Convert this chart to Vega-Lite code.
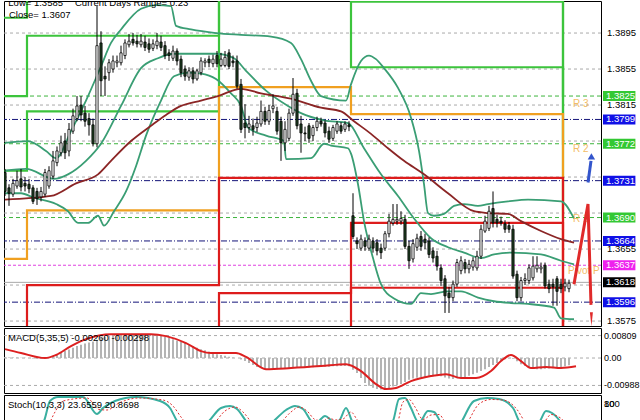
{
"$schema":"https://vega.github.io/schema/vega-lite/v6.json",
"background":"white",
"padding":{"left":3,"top":0,"right":0,"bottom":0},
"spacing":2,
"bounds":"flush",
"config":{"view":{"stroke":"#000000","strokeWidth":1},"font":"Liberation Sans","scale":{"continuousPadding":0}},
"datasets":{
"bars":[
{"t":0,"o":1.374,"h":1.3744,"l":1.3714,"c":1.3719,"m":0.0003},
{"t":1,"o":1.3723,"h":1.3727,"l":1.3703,"c":1.3717,"m":0.0002},
{"t":2,"o":1.3716,"h":1.3733,"l":1.3713,"c":1.3728,"m":0.0002},
{"t":3,"o":1.3725,"h":1.3742,"l":1.3722,"c":1.3731,"m":0.0002},
{"t":4,"o":1.3733,"h":1.3744,"l":1.3719,"c":1.3724,"m":0.0001},
{"t":5,"o":1.3728,"h":1.3735,"l":1.3719,"c":1.3725,"m":0.0001},
{"t":6,"o":1.3727,"h":1.3733,"l":1.3717,"c":1.3722,"m":0.0},
{"t":7,"o":1.3723,"h":1.3726,"l":1.3705,"c":1.3708,"m":-0.0002},
{"t":8,"o":1.3719,"h":1.3723,"l":1.3704,"c":1.3711,"m":-0.0003},
{"t":9,"o":1.3713,"h":1.3724,"l":1.3708,"c":1.3719,"m":-0.0002},
{"t":10,"o":1.3716,"h":1.3744,"l":1.3713,"c":1.374,"m":0.0},
{"t":11,"o":1.3725,"h":1.3747,"l":1.3722,"c":1.3742,"m":0.0003},
{"t":12,"o":1.3736,"h":1.3764,"l":1.3733,"c":1.3753,"m":0.0008},
{"t":13,"o":1.3751,"h":1.3769,"l":1.3747,"c":1.3764,"m":0.0013},
{"t":14,"o":1.3762,"h":1.3781,"l":1.3758,"c":1.3773,"m":0.0019},
{"t":15,"o":1.3775,"h":1.3784,"l":1.3755,"c":1.3762,"m":0.0025},
{"t":16,"o":1.3764,"h":1.3795,"l":1.3758,"c":1.3788,"m":0.0031},
{"t":17,"o":1.3786,"h":1.3811,"l":1.3783,"c":1.3803,"m":0.0037},
{"t":18,"o":1.38,"h":1.3825,"l":1.3797,"c":1.3814,"m":0.0043},
{"t":19,"o":1.3815,"h":1.3825,"l":1.3797,"c":1.3804,"m":0.0048},
{"t":20,"o":1.3806,"h":1.3814,"l":1.3791,"c":1.3797,"m":0.0052},
{"t":21,"o":1.38,"h":1.3806,"l":1.3781,"c":1.3793,"m":0.0056},
{"t":22,"o":1.3793,"h":1.38,"l":1.3769,"c":1.3772,"m":0.006},
{"t":23,"o":1.3772,"h":1.3925,"l":1.3768,"c":1.3881,"m":0.0066},
{"t":24,"o":1.3884,"h":1.3897,"l":1.3825,"c":1.3842,"m":0.0072},
{"t":25,"o":1.3847,"h":1.3858,"l":1.3825,"c":1.3844,"m":0.0076},
{"t":26,"o":1.3851,"h":1.3866,"l":1.3842,"c":1.3862,"m":0.0079},
{"t":27,"o":1.3855,"h":1.387,"l":1.3851,"c":1.3864,"m":0.0082},
{"t":28,"o":1.3862,"h":1.387,"l":1.3857,"c":1.3864,"m":0.0085},
{"t":29,"o":1.3862,"h":1.3881,"l":1.3859,"c":1.3873,"m":0.0086},
{"t":30,"o":1.387,"h":1.3888,"l":1.3866,"c":1.3884,"m":0.0087},
{"t":31,"o":1.3882,"h":1.3894,"l":1.3879,"c":1.3886,"m":0.0087},
{"t":32,"o":1.3888,"h":1.3895,"l":1.3881,"c":1.3884,"m":0.0087},
{"t":33,"o":1.3886,"h":1.3893,"l":1.3879,"c":1.3883,"m":0.0086},
{"t":34,"o":1.3882,"h":1.3894,"l":1.3879,"c":1.3886,"m":0.0086},
{"t":35,"o":1.3885,"h":1.3892,"l":1.3875,"c":1.3879,"m":0.0085},
{"t":36,"o":1.3883,"h":1.3889,"l":1.3873,"c":1.3877,"m":0.0084},
{"t":37,"o":1.3878,"h":1.3888,"l":1.3875,"c":1.3883,"m":0.0084},
{"t":38,"o":1.3881,"h":1.3895,"l":1.3877,"c":1.3886,"m":0.0083},
{"t":39,"o":1.3885,"h":1.3892,"l":1.3875,"c":1.3879,"m":0.008},
{"t":40,"o":1.3881,"h":1.3886,"l":1.3866,"c":1.387,"m":0.0077},
{"t":41,"o":1.3873,"h":1.3877,"l":1.3864,"c":1.387,"m":0.0073},
{"t":42,"o":1.3867,"h":1.3881,"l":1.3864,"c":1.3875,"m":0.0068},
{"t":43,"o":1.3875,"h":1.3878,"l":1.3859,"c":1.3864,"m":0.0063},
{"t":44,"o":1.3866,"h":1.387,"l":1.3846,"c":1.3851,"m":0.0058},
{"t":45,"o":1.3855,"h":1.3859,"l":1.3842,"c":1.3847,"m":0.0054},
{"t":46,"o":1.3846,"h":1.3857,"l":1.3842,"c":1.3853,"m":0.0048},
{"t":47,"o":1.3853,"h":1.3857,"l":1.3839,"c":1.3844,"m":0.0043},
{"t":48,"o":1.3844,"h":1.3855,"l":1.3842,"c":1.3853,"m":0.0037},
{"t":49,"o":1.3851,"h":1.3868,"l":1.3848,"c":1.3864,"m":0.0032},
{"t":50,"o":1.3862,"h":1.3867,"l":1.3857,"c":1.3864,"m":0.0028},
{"t":51,"o":1.3866,"h":1.387,"l":1.3857,"c":1.3862,"m":0.0023},
{"t":52,"o":1.3861,"h":1.3871,"l":1.3857,"c":1.3866,"m":0.0019},
{"t":53,"o":1.387,"h":1.3875,"l":1.3857,"c":1.3861,"m":0.0014},
{"t":54,"o":1.3859,"h":1.3873,"l":1.3857,"c":1.3866,"m":0.0011},
{"t":55,"o":1.3859,"h":1.3875,"l":1.3857,"c":1.3868,"m":0.0008},
{"t":56,"o":1.3873,"h":1.3877,"l":1.3855,"c":1.3858,"m":0.0005},
{"t":57,"o":1.3864,"h":1.387,"l":1.3857,"c":1.3862,"m":0.0002},
{"t":58,"o":1.3864,"h":1.387,"l":1.3833,"c":1.3836,"m":0.0},
{"t":59,"o":1.3838,"h":1.3844,"l":1.3784,"c":1.3788,"m":-0.0005},
{"t":60,"o":1.3795,"h":1.3816,"l":1.3778,"c":1.379,"m":-0.0011},
{"t":61,"o":1.379,"h":1.3803,"l":1.3784,"c":1.3794,"m":-0.0018},
{"t":62,"o":1.3792,"h":1.38,"l":1.3781,"c":1.3788,"m":-0.0025},
{"t":63,"o":1.379,"h":1.3802,"l":1.3785,"c":1.3795,"m":-0.0032},
{"t":64,"o":1.3794,"h":1.382,"l":1.3791,"c":1.3808,"m":-0.0036},
{"t":65,"o":1.3808,"h":1.3813,"l":1.3793,"c":1.3797,"m":-0.004},
{"t":66,"o":1.3797,"h":1.3815,"l":1.3793,"c":1.3809,"m":-0.0039},
{"t":67,"o":1.3811,"h":1.3827,"l":1.3806,"c":1.3814,"m":-0.0038},
{"t":68,"o":1.3808,"h":1.3813,"l":1.3782,"c":1.3786,"m":-0.0038},
{"t":69,"o":1.3797,"h":1.3802,"l":1.3753,"c":1.3773,"m":-0.0039},
{"t":70,"o":1.3773,"h":1.3797,"l":1.3764,"c":1.3788,"m":-0.0038},
{"t":71,"o":1.3778,"h":1.3811,"l":1.3775,"c":1.3806,"m":-0.0036},
{"t":72,"o":1.3806,"h":1.3845,"l":1.3803,"c":1.3827,"m":-0.0034},
{"t":73,"o":1.3828,"h":1.3833,"l":1.3788,"c":1.3792,"m":-0.0034},
{"t":74,"o":1.3794,"h":1.3803,"l":1.3762,"c":1.3784,"m":-0.0035},
{"t":75,"o":1.3784,"h":1.3791,"l":1.3775,"c":1.3783,"m":-0.0034},
{"t":76,"o":1.3792,"h":1.3795,"l":1.3773,"c":1.3778,"m":-0.0034},
{"t":77,"o":1.3781,"h":1.3793,"l":1.3775,"c":1.379,"m":-0.0033},
{"t":78,"o":1.379,"h":1.3802,"l":1.3786,"c":1.3797,"m":-0.0032},
{"t":79,"o":1.3797,"h":1.3801,"l":1.3791,"c":1.3794,"m":-0.0032},
{"t":80,"o":1.3795,"h":1.3798,"l":1.3779,"c":1.3784,"m":-0.0031},
{"t":81,"o":1.3786,"h":1.3791,"l":1.3773,"c":1.3777,"m":-0.0031},
{"t":82,"o":1.3778,"h":1.3793,"l":1.3775,"c":1.379,"m":-0.003},
{"t":83,"o":1.3786,"h":1.3797,"l":1.3783,"c":1.3794,"m":-0.003},
{"t":84,"o":1.3792,"h":1.3796,"l":1.3783,"c":1.3786,"m":-0.0029},
{"t":85,"o":1.3788,"h":1.3797,"l":1.3785,"c":1.3794,"m":-0.0029},
{"t":86,"o":1.3793,"h":1.3797,"l":1.3786,"c":1.3791,"m":-0.003},
{"t":87,"o":1.3692,"h":1.3717,"l":1.3666,"c":1.3669,"m":-0.0042},
{"t":88,"o":1.3664,"h":1.3668,"l":1.3655,"c":1.3661,"m":-0.0054},
{"t":89,"o":1.3656,"h":1.3671,"l":1.3653,"c":1.3666,"m":-0.0072},
{"t":90,"o":1.3664,"h":1.3668,"l":1.3653,"c":1.3658,"m":-0.009},
{"t":91,"o":1.3656,"h":1.3671,"l":1.3653,"c":1.3666,"m":-0.01},
{"t":92,"o":1.3664,"h":1.3668,"l":1.3651,"c":1.3656,"m":-0.0107},
{"t":93,"o":1.3662,"h":1.3666,"l":1.3648,"c":1.3653,"m":-0.0112},
{"t":94,"o":1.3656,"h":1.3661,"l":1.3644,"c":1.3651,"m":-0.0113},
{"t":95,"o":1.3656,"h":1.3675,"l":1.3653,"c":1.3672,"m":-0.0111},
{"t":96,"o":1.3672,"h":1.3694,"l":1.3668,"c":1.3686,"m":-0.0108},
{"t":97,"o":1.3684,"h":1.3705,"l":1.3681,"c":1.3688,"m":-0.0103},
{"t":98,"o":1.3686,"h":1.3705,"l":1.3682,"c":1.3688,"m":-0.0098},
{"t":99,"o":1.3686,"h":1.3697,"l":1.3682,"c":1.3689,"m":-0.0094},
{"t":100,"o":1.3688,"h":1.3693,"l":1.3655,"c":1.3658,"m":-0.0086},
{"t":101,"o":1.3658,"h":1.3664,"l":1.3633,"c":1.3642,"m":-0.0078},
{"t":102,"o":1.3644,"h":1.3666,"l":1.364,"c":1.3661,"m":-0.0074},
{"t":103,"o":1.3657,"h":1.3672,"l":1.3653,"c":1.3667,"m":-0.0071},
{"t":104,"o":1.3669,"h":1.3675,"l":1.3653,"c":1.3658,"m":-0.0069},
{"t":105,"o":1.3666,"h":1.3672,"l":1.3655,"c":1.3662,"m":-0.0068},
{"t":106,"o":1.3664,"h":1.3668,"l":1.3645,"c":1.3649,"m":-0.0067},
{"t":107,"o":1.3653,"h":1.3657,"l":1.364,"c":1.3645,"m":-0.0066},
{"t":108,"o":1.3647,"h":1.3653,"l":1.3631,"c":1.3636,"m":-0.0065},
{"t":109,"o":1.3634,"h":1.3638,"l":1.3614,"c":1.362,"m":-0.0066},
{"t":110,"o":1.3622,"h":1.3626,"l":1.3584,"c":1.3603,"m":-0.007},
{"t":111,"o":1.3606,"h":1.3613,"l":1.3584,"c":1.3601,"m":-0.0074},
{"t":112,"o":1.3601,"h":1.362,"l":1.3597,"c":1.3616,"m":-0.0076},
{"t":113,"o":1.3616,"h":1.3644,"l":1.3613,"c":1.364,"m":-0.0073},
{"t":114,"o":1.3631,"h":1.3647,"l":1.3627,"c":1.3642,"m":-0.007},
{"t":115,"o":1.364,"h":1.3644,"l":1.3628,"c":1.3633,"m":-0.0068},
{"t":116,"o":1.3633,"h":1.3643,"l":1.3628,"c":1.3638,"m":-0.0064},
{"t":117,"o":1.3635,"h":1.3646,"l":1.3631,"c":1.3642,"m":-0.0058},
{"t":118,"o":1.3634,"h":1.3653,"l":1.3631,"c":1.3647,"m":-0.0053},
{"t":119,"o":1.3647,"h":1.3682,"l":1.3644,"c":1.3677,"m":-0.0047},
{"t":120,"o":1.3675,"h":1.3692,"l":1.3673,"c":1.3686,"m":-0.004},
{"t":121,"o":1.3678,"h":1.3703,"l":1.3675,"c":1.3697,"m":-0.0032},
{"t":122,"o":1.37,"h":1.3719,"l":1.3679,"c":1.3684,"m":-0.0025},
{"t":123,"o":1.3688,"h":1.3693,"l":1.3679,"c":1.3684,"m":-0.0018},
{"t":124,"o":1.3686,"h":1.3691,"l":1.3681,"c":1.3684,"m":-0.001},
{"t":125,"o":1.3683,"h":1.3687,"l":1.3673,"c":1.3677,"m":-0.0004},
{"t":126,"o":1.3681,"h":1.3685,"l":1.3673,"c":1.3677,"m":-0.0001},
{"t":127,"o":1.3677,"h":1.3682,"l":1.3622,"c":1.3625,"m":-0.0003},
{"t":128,"o":1.3627,"h":1.3631,"l":1.3597,"c":1.3601,"m":-0.0012},
{"t":129,"o":1.3601,"h":1.3624,"l":1.3597,"c":1.362,"m":-0.0022},
{"t":130,"o":1.362,"h":1.3628,"l":1.3615,"c":1.3622,"m":-0.0029},
{"t":131,"o":1.362,"h":1.3638,"l":1.3616,"c":1.3634,"m":-0.0034},
{"t":132,"o":1.3623,"h":1.3647,"l":1.362,"c":1.3636,"m":-0.0038},
{"t":133,"o":1.3633,"h":1.3647,"l":1.3629,"c":1.3637,"m":-0.004},
{"t":134,"o":1.3633,"h":1.364,"l":1.3628,"c":1.3635,"m":-0.004},
{"t":135,"o":1.3637,"h":1.364,"l":1.3611,"c":1.3614,"m":-0.0039},
{"t":136,"o":1.3616,"h":1.3621,"l":1.3606,"c":1.3611,"m":-0.0038},
{"t":137,"o":1.3616,"h":1.3622,"l":1.3592,"c":1.3613,"m":-0.0037},
{"t":138,"o":1.3622,"h":1.3625,"l":1.3592,"c":1.3608,"m":-0.0036},
{"t":139,"o":1.3616,"h":1.3622,"l":1.3606,"c":1.3611,"m":-0.0034},
{"t":140,"o":1.3613,"h":1.3622,"l":1.3608,"c":1.3617,"m":-0.003},
{"t":141,"o":1.3611,"h":1.3621,"l":1.3607,"c":1.3617,"m":-0.0026}
],
"levels":[
{"p":1.3825,"k":"R"},{"p":1.3799,"k":"M"},{"p":1.3772,"k":"R"},{"p":1.3731,"k":"M"},{"p":1.369,"k":"R"},{"p":1.3664,"k":"M"},{"p":1.3637,"k":"P"},{"p":1.3618,"k":"C"},{"p":1.3596,"k":"M"}
],
"pgrid":[{"p":1.3895},{"p":1.3855},{"p":1.3815},{"p":1.3775},{"p":1.3735},{"p":1.3695},{"p":1.3655},{"p":1.3615},{"p":1.3575}],
"plabels":[{"p":1.3895},{"p":1.3855},{"p":1.3815},{"p":1.3655},{"p":1.3575}],
"steps":[
{"s":"R3","kind":"res","t":-0.25,"p":1.3912},{"s":"R3","kind":"res","t":5.5,"p":1.396},{"s":"R3","kind":"res","t":53.5,"p":1.396},{"s":"R3","kind":"res","t":86.5,"p":1.396},{"s":"R3","kind":"res","t":139.5,"p":1.3825},{"s":"R3","kind":"res","t":139.75,"p":1.3825},
{"s":"R2","kind":"res","t":-0.25,"p":1.3825},{"s":"R2","kind":"res","t":5.5,"p":1.3892},{"s":"R2","kind":"res","t":53.5,"p":1.396},{"s":"R2","kind":"res","t":86.5,"p":1.393},{"s":"R2","kind":"res","t":139.5,"p":1.3772},{"s":"R2","kind":"res","t":139.75,"p":1.3772},
{"s":"R1","kind":"res","t":-0.25,"p":1.3742},{"s":"R1","kind":"res","t":5.5,"p":1.3808},{"s":"R1","kind":"res","t":53.5,"p":1.396},{"s":"R1","kind":"res","t":86.5,"p":1.3857},{"s":"R1","kind":"res","t":139.5,"p":1.369},{"s":"R1","kind":"res","t":139.75,"p":1.369},
{"s":"PP","kind":"piv","t":-0.25,"p":1.3644},{"s":"PP","kind":"piv","t":5.5,"p":1.3698},{"s":"PP","kind":"piv","t":53.5,"p":1.3835},{"s":"PP","kind":"piv","t":86.5,"p":1.3805},{"s":"PP","kind":"piv","t":139.5,"p":1.3637},{"s":"PP","kind":"piv","t":139.75,"p":1.3637},
{"s":"S1","kind":"sup","t":-0.25,"p":1.354},{"s":"S1","kind":"sup","t":5.5,"p":1.3615},{"s":"S1","kind":"sup","t":53.5,"p":1.3734},{"s":"S1","kind":"sup","t":86.5,"p":1.3734},{"s":"S1","kind":"sup","t":139.5,"p":1.3555},{"s":"S1","kind":"sup","t":139.75,"p":1.3555},
{"s":"S2","kind":"sup","t":-0.25,"p":1.35},{"s":"S2","kind":"sup","t":5.5,"p":1.35},{"s":"S2","kind":"sup","t":53.5,"p":1.3606},{"s":"S2","kind":"sup","t":86.5,"p":1.3684},{"s":"S2","kind":"sup","t":139.5,"p":1.35},{"s":"S2","kind":"sup","t":139.75,"p":1.35},
{"s":"S3","kind":"sup","t":-0.25,"p":1.345},{"s":"S3","kind":"sup","t":53.5,"p":1.345},{"s":"S3","kind":"sup","t":86.5,"p":1.3612},{"s":"S3","kind":"sup","t":139.5,"p":1.345},{"s":"S3","kind":"sup","t":139.75,"p":1.345}
],
"ind":[
{"s":"bu","t":0,"v":1.3773},{"s":"bu","t":5.75,"v":1.3775},{"s":"bu","t":10.25,"v":1.3764},{"s":"bu","t":12.75,"v":1.3756},{"s":"bu","t":16.5,"v":1.3786},{"s":"bu","t":20.25,"v":1.382},{"s":"bu","t":24,"v":1.3858},{"s":"bu","t":26.5,"v":1.3884},{"s":"bu","t":29,"v":1.3899},{"s":"bu","t":34,"v":1.3922},{"s":"bu","t":37.75,"v":1.3926},{"s":"bu","t":41.5,"v":1.3925},{"s":"bu","t":42.75,"v":1.3903},{"s":"bu","t":46.5,"v":1.3899},{"s":"bu","t":52.75,"v":1.3895},{"s":"bu","t":59,"v":1.3893},{"s":"bu","t":66.5,"v":1.3891},{"s":"bu","t":71.5,"v":1.3884},{"s":"bu","t":74,"v":1.3866},{"s":"bu","t":76.5,"v":1.3842},{"s":"bu","t":79,"v":1.3825},{"s":"bu","t":85.25,"v":1.382},{"s":"bu","t":86.5,"v":1.3838},{"s":"bu","t":89,"v":1.3864},{"s":"bu","t":91,"v":1.387},{"s":"bu","t":92.75,"v":1.3866},{"s":"bu","t":94.75,"v":1.3856},{"s":"bu","t":98.25,"v":1.3834},{"s":"bu","t":101.5,"v":1.3801},{"s":"bu","t":103.5,"v":1.3764},{"s":"bu","t":104.75,"v":1.3727},{"s":"bu","t":105.75,"v":1.3695},{"s":"bu","t":107.25,"v":1.3692},{"s":"bu","t":109.75,"v":1.3694},{"s":"bu","t":112.25,"v":1.3703},{"s":"bu","t":114.75,"v":1.3705},{"s":"bu","t":118.25,"v":1.3703},{"s":"bu","t":120.75,"v":1.3705},{"s":"bu","t":125.75,"v":1.3708},{"s":"bu","t":130.75,"v":1.371},{"s":"bu","t":139,"v":1.3708},{"s":"bu","t":142.25,"v":1.3689},
{"s":"bm","t":0,"v":1.3742},{"s":"bm","t":5.25,"v":1.3744},{"s":"bm","t":12.25,"v":1.3733},{"s":"bm","t":15.75,"v":1.3738},{"s":"bm","t":20.25,"v":1.3753},{"s":"bm","t":24,"v":1.3772},{"s":"bm","t":29,"v":1.3814},{"s":"bm","t":34,"v":1.3856},{"s":"bm","t":38.25,"v":1.3867},{"s":"bm","t":42.25,"v":1.3872},{"s":"bm","t":52.75,"v":1.3872},{"s":"bm","t":57.25,"v":1.3867},{"s":"bm","t":60.25,"v":1.3853},{"s":"bm","t":65.25,"v":1.3831},{"s":"bm","t":70.75,"v":1.3814},{"s":"bm","t":74,"v":1.3806},{"s":"bm","t":79.75,"v":1.3798},{"s":"bm","t":85.75,"v":1.3795},{"s":"bm","t":89.75,"v":1.3767},{"s":"bm","t":94,"v":1.3738},{"s":"bm","t":98.25,"v":1.3714},{"s":"bm","t":102.25,"v":1.3689},{"s":"bm","t":106.5,"v":1.3667},{"s":"bm","t":110.75,"v":1.3657},{"s":"bm","t":114.75,"v":1.3651},{"s":"bm","t":119,"v":1.3645},{"s":"bm","t":122.25,"v":1.3649},{"s":"bm","t":126.5,"v":1.3651},{"s":"bm","t":134,"v":1.3649},{"s":"bm","t":139,"v":1.3642},{"s":"bm","t":142.25,"v":1.3638},
{"s":"bl","t":0,"v":1.3717},{"s":"bl","t":4,"v":1.3717},{"s":"bl","t":7.25,"v":1.3712},{"s":"bl","t":12.75,"v":1.3705},{"s":"bl","t":15.75,"v":1.3697},{"s":"bl","t":18.25,"v":1.3684},{"s":"bl","t":20.75,"v":1.3684},{"s":"bl","t":23.25,"v":1.3692},{"s":"bl","t":24.75,"v":1.3681},{"s":"bl","t":27.25,"v":1.3697},{"s":"bl","t":30.25,"v":1.3719},{"s":"bl","t":32.75,"v":1.3747},{"s":"bl","t":35.25,"v":1.3781},{"s":"bl","t":39,"v":1.382},{"s":"bl","t":42.25,"v":1.3847},{"s":"bl","t":45.75,"v":1.3851},{"s":"bl","t":49,"v":1.385},{"s":"bl","t":52.75,"v":1.3844},{"s":"bl","t":56.5,"v":1.3828},{"s":"bl","t":59,"v":1.3814},{"s":"bl","t":60.75,"v":1.379},{"s":"bl","t":65.25,"v":1.3781},{"s":"bl","t":69.75,"v":1.3775},{"s":"bl","t":70.25,"v":1.3755},{"s":"bl","t":76.5,"v":1.3756},{"s":"bl","t":79.75,"v":1.3772},{"s":"bl","t":81.5,"v":1.377},{"s":"bl","t":85.75,"v":1.3767},{"s":"bl","t":86.5,"v":1.3761},{"s":"bl","t":88.25,"v":1.3727},{"s":"bl","t":89.75,"v":1.3686},{"s":"bl","t":92,"v":1.3645},{"s":"bl","t":94,"v":1.3616},{"s":"bl","t":97.25,"v":1.36},{"s":"bl","t":101.5,"v":1.3594},{"s":"bl","t":104,"v":1.3606},{"s":"bl","t":106.5,"v":1.3605},{"s":"bl","t":110.75,"v":1.3608},{"s":"bl","t":114,"v":1.3608},{"s":"bl","t":118.25,"v":1.3601},{"s":"bl","t":122.25,"v":1.3597},{"s":"bl","t":126.5,"v":1.3595},{"s":"bl","t":130.75,"v":1.3594},{"s":"bl","t":137.25,"v":1.359},{"s":"bl","t":139,"v":1.3578},{"s":"bl","t":142.25,"v":1.3577},
{"s":"ma","t":0,"v":1.371},{"s":"ma","t":11.5,"v":1.3714},{"s":"ma","t":17.75,"v":1.3728},{"s":"ma","t":23.25,"v":1.3738},{"s":"ma","t":26.5,"v":1.3753},{"s":"ma","t":31.5,"v":1.3775},{"s":"ma","t":36.5,"v":1.3792},{"s":"ma","t":40.25,"v":1.3804},{"s":"ma","t":44,"v":1.3814},{"s":"ma","t":49,"v":1.382},{"s":"ma","t":53.25,"v":1.3825},{"s":"ma","t":59,"v":1.3833},{"s":"ma","t":64,"v":1.3828},{"s":"ma","t":71.5,"v":1.3822},{"s":"ma","t":79,"v":1.3812},{"s":"ma","t":84,"v":1.3808},{"s":"ma","t":87.25,"v":1.3797},{"s":"ma","t":91.5,"v":1.3783},{"s":"ma","t":95.75,"v":1.3767},{"s":"ma","t":99.75,"v":1.3753},{"s":"ma","t":104.75,"v":1.3738},{"s":"ma","t":110.75,"v":1.3717},{"s":"ma","t":117.25,"v":1.3697},{"s":"ma","t":120.75,"v":1.3695},{"s":"ma","t":125.75,"v":1.3694},{"s":"ma","t":129,"v":1.3686},{"s":"ma","t":134,"v":1.3675},{"s":"ma","t":139,"v":1.3666},{"s":"ma","t":142.25,"v":1.3662}
],
"sig":[
{"t":0,"v":0.0032},{"t":4,"v":0.0018},{"t":10,"v":0.0},{"t":12.75,"v":0.0011},{"t":16.5,"v":0.0043},{"t":20.25,"v":0.0068},{"t":26.5,"v":0.0086},{"t":36.5,"v":0.0086},{"t":40.25,"v":0.0079},{"t":45.25,"v":0.0054},{"t":49,"v":0.0025},{"t":51.5,"v":0.0018},{"t":57.75,"v":0.0018},{"t":60.25,"v":0.0004},{"t":65.25,"v":-0.004},{"t":71.5,"v":-0.0036},{"t":79,"v":-0.0029},{"t":85.25,"v":-0.0022},{"t":89,"v":-0.0047},{"t":92.75,"v":-0.0094},{"t":95.25,"v":-0.0112},{"t":97.75,"v":-0.0108},{"t":101.5,"v":-0.0083},{"t":106.5,"v":-0.0065},{"t":110.25,"v":-0.0058},{"t":114,"v":-0.0072},{"t":117.75,"v":-0.0072},{"t":121.5,"v":-0.0047},{"t":124,"v":-0.0011},{"t":126.5,"v":0.0011},{"t":129,"v":-0.0011},{"t":131.5,"v":-0.0036},{"t":135.25,"v":-0.0032},{"t":139,"v":-0.0036},{"t":142.75,"v":-0.003}
],
"mgrid":[{"v":0.00809,"txt":"0.00809"},{"v":0,"txt":"0.00"},{"v":-0.00988,"txt":"-0.00988"}],
"stk":[
{"t":0,"v":35},{"t":6.5,"v":25},{"t":9.75,"v":52},{"t":11.25,"v":92},{"t":13.25,"v":100},{"t":19.5,"v":100},{"t":23,"v":66},{"t":24.5,"v":78},{"t":27.5,"v":92},{"t":32.75,"v":100},{"t":38.75,"v":92},{"t":41.25,"v":78},{"t":43,"v":52},{"t":46.5,"v":25},{"t":51,"v":52},{"t":54,"v":78},{"t":56.25,"v":82},{"t":58,"v":76},{"t":60.25,"v":52},{"t":63.5,"v":20},{"t":67.25,"v":52},{"t":70.25,"v":74},{"t":72.5,"v":82},{"t":74.5,"v":76},{"t":76.5,"v":52},{"t":77.5,"v":45},{"t":78.5,"v":52},{"t":80,"v":62},{"t":81.75,"v":52},{"t":82.75,"v":48},{"t":83.75,"v":55},{"t":85.25,"v":78},{"t":86.75,"v":52},{"t":91.5,"v":10},{"t":97,"v":52},{"t":98.5,"v":96},{"t":100,"v":98},{"t":101.5,"v":78},{"t":103,"v":52},{"t":103.5,"v":48},{"t":104,"v":52},{"t":105.75,"v":72},{"t":107.25,"v":70},{"t":108.75,"v":52},{"t":111.5,"v":15},{"t":114.25,"v":52},{"t":117.25,"v":92},{"t":120.5,"v":98},{"t":123.5,"v":96},{"t":127,"v":78},{"t":128.5,"v":52},{"t":131,"v":30},{"t":133.75,"v":52},{"t":135.25,"v":72},{"t":136.75,"v":68},{"t":138.75,"v":52},{"t":141,"v":24}
],
"std":[
{"t":0,"v":38},{"t":7,"v":26},{"t":10.5,"v":40},{"t":12.5,"v":70},{"t":14.5,"v":92},{"t":20.5,"v":98},{"t":23.5,"v":75},{"t":25.5,"v":74},{"t":28.5,"v":88},{"t":33.5,"v":98},{"t":39.5,"v":94},{"t":42,"v":82},{"t":44,"v":60},{"t":47.5,"v":30},{"t":52,"v":45},{"t":55,"v":72},{"t":57.5,"v":80},{"t":59.5,"v":70},{"t":62,"v":45},{"t":64.5,"v":24},{"t":68.5,"v":45},{"t":71.5,"v":70},{"t":73.5,"v":80},{"t":75.5,"v":72},{"t":77.5,"v":55},{"t":79.5,"v":52},{"t":81,"v":58},{"t":82.5,"v":54},{"t":84.5,"v":56},{"t":86.5,"v":70},{"t":88,"v":55},{"t":92.5,"v":18},{"t":98,"v":45},{"t":99.5,"v":90},{"t":101,"v":95},{"t":102.5,"v":80},{"t":104.5,"v":55},{"t":106.5,"v":64},{"t":108.5,"v":65},{"t":110,"v":50},{"t":112.5,"v":22},{"t":115.5,"v":48},{"t":118.5,"v":86},{"t":121.5,"v":95},{"t":124.5,"v":94},{"t":128,"v":75},{"t":130,"v":50},{"t":132,"v":32},{"t":135,"v":52},{"t":136.5,"v":65},{"t":138,"v":62},{"t":140,"v":48},{"t":141.5,"v":21}
]
},
"vconcat":[
{
"width":597,"height":325,
"layer":[
{"data":{"name":"pgrid"},"mark":{"type":"rule","strokeWidth":1,"color":"#aaaaaa","strokeDash":[3,3],"clip":true},
 "encoding":{"y":{"field":"p","type":"quantitative","scale":{"domain":[1.35695,1.39306],"nice":false,"zero":false,"padding":0},"axis":null}}},
{"data":{"name":"levels"},"mark":{"type":"rule","strokeWidth":1,"clip":true},
 "encoding":{"y":{"field":"p","type":"quantitative","scale":{"domain":[1.35695,1.39306],"nice":false,"zero":false,"padding":0},"axis":null},
 "stroke":{"field":"k","type":"nominal","scale":{"domain":["R","M","P","C","res","piv","sup","bu","bm","bl","ma"],"range":["#3cb43c","#14147a","#e040e0","#a8a8a8","#3cc43c","#f0a020","#dd1c1c","#3a9e74","#3a9e74","#3a9e74","#8b2525"]},"legend":null},
 "strokeDash":{"field":"k","type":"nominal","scale":{"domain":["R","M","P","C"],"range":[[4,3],[6,2,1,2],[3,2],[1,0]]},"legend":null}}},
{"data":{"name":"steps"},"mark":{"type":"line","interpolate":"step-after","strokeWidth":2.2,"clip":true},
 "encoding":{"x":{"field":"t","type":"quantitative","scale":{"domain":[-0.25,149],"nice":false,"zero":false,"padding":0},"axis":null},
 "y":{"field":"p","type":"quantitative","scale":{"domain":[1.35695,1.39306],"nice":false,"zero":false,"padding":0},"axis":null},
 "stroke":{"field":"kind","type":"nominal","scale":{"domain":["R","M","P","C","res","piv","sup","bu","bm","bl","ma"],"range":["#3cb43c","#14147a","#e040e0","#a8a8a8","#3cc43c","#f0a020","#dd1c1c","#3a9e74","#3a9e74","#3a9e74","#8b2525"]},"legend":null},
 "detail":{"field":"s","type":"nominal"}}},
{"data":{"name":"ind"},"mark":{"type":"line","interpolate":"monotone","strokeWidth":1.8,"clip":true},
 "encoding":{"x":{"field":"t","type":"quantitative","scale":{"domain":[-0.25,149],"nice":false,"zero":false,"padding":0},"axis":null},
 "y":{"field":"v","type":"quantitative","scale":{"domain":[1.35695,1.39306],"nice":false,"zero":false,"padding":0},"axis":null},
 "stroke":{"field":"s","type":"nominal","scale":{"domain":["R","M","P","C","res","piv","sup","bu","bm","bl","ma"],"range":["#3cb43c","#14147a","#e040e0","#a8a8a8","#3cc43c","#f0a020","#dd1c1c","#3a9e74","#3a9e74","#3a9e74","#8b2525"]},"legend":null}}},
{"data":{"name":"bars"},"mark":{"type":"rule","color":"#000000","strokeWidth":1,"clip":true},
 "encoding":{"x":{"field":"t","type":"quantitative","scale":{"domain":[-0.25,149],"nice":false,"zero":false,"padding":0},
   "axis":{"orient":"bottom","values":[7.75,15.75,23.75,31.75,39.75,47.75,55.75,63.75,71.75,79.75,87.75,95.75,103.75,111.75,119.75,127.75,135.75,143.75],"grid":true,"gridColor":"#aaaaaa","gridDash":[3,3],"labels":false,"ticks":false,"domain":false,"title":null}},
 "y":{"field":"l","type":"quantitative","scale":{"domain":[1.35695,1.39306],"nice":false,"zero":false,"padding":0},"axis":null},
 "y2":{"field":"h"}}},
{"data":{"name":"bars"},"mark":{"type":"bar","orient":"vertical","size":2.2,"stroke":"#000000","strokeWidth":0.8,"clip":true},
 "encoding":{"x":{"field":"t","type":"quantitative","scale":{"domain":[-0.25,149],"nice":false,"zero":false,"padding":0},"axis":null},
 "y":{"field":"o","type":"quantitative","scale":{"domain":[1.35695,1.39306],"nice":false,"zero":false,"padding":0},"axis":null},
 "y2":{"field":"c"},
 "fill":{"condition":{"test":"datum.c >= datum.o","value":"#ffffff"},"value":"#1f3f22"}}},
{"data":{"values":[{"t":0.83,"p":1.3928,"txt":"Low= 1.3585"},{"t":17.5,"p":1.3928,"txt":"Current Days Range= 0.23"},{"t":1.0,"p":1.3915,"txt":"Close= 1.3607"}]},
 "mark":{"type":"text","align":"left","baseline":"middle","fontSize":9.5,"color":"#000000","clip":true},
 "encoding":{"x":{"field":"t","type":"quantitative","scale":{"domain":[-0.25,149],"nice":false,"zero":false,"padding":0},"axis":null},
 "y":{"field":"p","type":"quantitative","scale":{"domain":[1.35695,1.39306],"nice":false,"zero":false,"padding":0},"axis":null},
 "text":{"field":"txt"}}},
{"data":{"values":[{"t":142,"p":1.3816,"txt":"R 3"},{"t":142,"p":1.3766,"txt":"R 2"},{"t":142,"p":1.3688,"txt":"R 1"},{"t":140.75,"p":1.3631,"txt":"Pivot P"}]},
 "mark":{"type":"text","align":"left","baseline":"middle","fontSize":10,"color":"#f2b24a","opacity":0.85},
 "encoding":{"x":{"field":"t","type":"quantitative","scale":{"domain":[-0.25,149],"nice":false,"zero":false,"padding":0},"axis":null},
 "y":{"field":"p","type":"quantitative","scale":{"domain":[1.35695,1.39306],"nice":false,"zero":false,"padding":0},"axis":null},
 "text":{"field":"txt"}}},
{"data":{"values":[{"t":145.75,"p":1.3729},{"t":146.5,"p":1.3753}]},
 "mark":{"type":"line","color":"#3355cc","strokeWidth":3,"clip":false},
 "encoding":{"x":{"field":"t","type":"quantitative","scale":{"domain":[-0.25,149],"nice":false,"zero":false,"padding":0},"axis":null},
 "y":{"field":"p","type":"quantitative","scale":{"domain":[1.35695,1.39306],"nice":false,"zero":false,"padding":0},"axis":null}}},
{"data":{"values":[{"t":142.25,"p":1.3616},{"t":145.75,"p":1.3705},{"t":146.5,"p":1.3593}]},
 "mark":{"type":"line","color":"#e02a2a","strokeWidth":3,"clip":false},
 "encoding":{"x":{"field":"t","type":"quantitative","scale":{"domain":[-0.25,149],"nice":false,"zero":false,"padding":0},"axis":null},
 "y":{"field":"p","type":"quantitative","scale":{"domain":[1.35695,1.39306],"nice":false,"zero":false,"padding":0},"axis":null},
 "order":{"field":"t","type":"quantitative"}}},
{"data":{"values":[{"t":146.6,"p":1.3758}]},
 "mark":{"type":"point","shape":"triangle-up","size":55,"filled":true,"color":"#3355cc","opacity":1,"clip":false},
 "encoding":{"x":{"field":"t","type":"quantitative","scale":{"domain":[-0.25,149],"nice":false,"zero":false,"padding":0},"axis":null},
 "y":{"field":"p","type":"quantitative","scale":{"domain":[1.35695,1.39306],"nice":false,"zero":false,"padding":0},"axis":null}}},
{"data":{"values":[{"t":146.6,"p":1.3577}]},
 "mark":{"type":"point","shape":"M -0.3 -1.4 L 0.3 -1.4 L 0 1.4 Z","size":100,"filled":true,"color":"#e02a2a","opacity":1,"clip":false},
 "encoding":{"x":{"field":"t","type":"quantitative","scale":{"domain":[-0.25,149],"nice":false,"zero":false,"padding":0},"axis":null},
 "y":{"field":"p","type":"quantitative","scale":{"domain":[1.35695,1.39306],"nice":false,"zero":false,"padding":0},"axis":null}}},
{"data":{"name":"plabels"},
 "mark":{"type":"text","align":"left","baseline":"middle","fontSize":9.5,"color":"#000000","clip":false},
 "encoding":{"y":{"field":"p","type":"quantitative","scale":{"domain":[1.35695,1.39306],"nice":false,"zero":false,"padding":0},"axis":null},
 "x":{"datum":150.5,"type":"quantitative","scale":{"domain":[-0.25,149],"nice":false,"zero":false,"padding":0},"axis":null},
 "text":{"field":"p","type":"quantitative","format":".4f"}}},
{"data":{"name":"levels"},
 "mark":{"type":"bar","orient":"horizontal","size":10,"clip":false},
 "encoding":{"y":{"field":"p","type":"quantitative","scale":{"domain":[1.35695,1.39306],"nice":false,"zero":false,"padding":0},"axis":null},
 "x":{"datum":149.5,"type":"quantitative","scale":{"domain":[-0.25,149],"nice":false,"zero":false,"padding":0},"axis":null},
 "x2":{"datum":157.6},
 "fill":{"field":"k","type":"nominal","scale":{"domain":["R","M","P","C"],"range":["#33c833","#1010e6","#ee22ee","#000000"]},"legend":null}}},
{"data":{"name":"levels"},
 "mark":{"type":"text","align":"left","baseline":"middle","fontSize":9.5,"color":"#ffffff","clip":false},
 "encoding":{"y":{"field":"p","type":"quantitative","scale":{"domain":[1.35695,1.39306],"nice":false,"zero":false,"padding":0},"axis":null},
 "x":{"datum":150.25,"type":"quantitative","scale":{"domain":[-0.25,149],"nice":false,"zero":false,"padding":0},"axis":null},
 "text":{"field":"p","type":"quantitative","format":".4f"}}}
]
},
{
"width":597,"height":65,
"layer":[
{"data":{"name":"mgrid"},"mark":{"type":"rule","strokeWidth":1,"color":"#aaaaaa","strokeDash":[3,3],"clip":true},
 "encoding":{"y":{"field":"v","type":"quantitative","scale":{"domain":[-0.0126,0.01082],"nice":false,"zero":false,"padding":0},"axis":null}}},
{"data":{"name":"bars"},"mark":{"type":"rule","color":"#b4b4b4","strokeWidth":2,"clip":true},
 "encoding":{"x":{"field":"t","type":"quantitative","scale":{"domain":[-0.25,149],"nice":false,"zero":false,"padding":0},
   "axis":{"orient":"bottom","values":[7.75,15.75,23.75,31.75,39.75,47.75,55.75,63.75,71.75,79.75,87.75,95.75,103.75,111.75,119.75,127.75,135.75,143.75],"grid":true,"gridColor":"#aaaaaa","gridDash":[3,3],"labels":false,"ticks":false,"domain":false,"title":null}},
 "y":{"field":"m","type":"quantitative","scale":{"domain":[-0.0126,0.01082],"nice":false,"zero":false,"padding":0},"axis":null},
 "y2":{"datum":0}}},
{"data":{"name":"sig"},"mark":{"type":"line","color":"#dd2020","strokeWidth":2,"interpolate":"monotone","clip":true},
 "encoding":{"x":{"field":"t","type":"quantitative","scale":{"domain":[-0.25,149],"nice":false,"zero":false,"padding":0},"axis":null},
 "y":{"field":"v","type":"quantitative","scale":{"domain":[-0.0126,0.01082],"nice":false,"zero":false,"padding":0},"axis":null}}},
{"data":{"values":[{"t":0.75,"v":0.0072,"txt":"MACD(5,35,5) -0.00260 -0.00298"}]},
 "mark":{"type":"text","align":"left","baseline":"middle","fontSize":9.5,"color":"#000000"},
 "encoding":{"x":{"field":"t","type":"quantitative","scale":{"domain":[-0.25,149],"nice":false,"zero":false,"padding":0},"axis":null},
 "y":{"field":"v","type":"quantitative","scale":{"domain":[-0.0126,0.01082],"nice":false,"zero":false,"padding":0},"axis":null},
 "text":{"field":"txt"}}},
{"data":{"name":"mgrid"},
 "mark":{"type":"text","align":"left","baseline":"middle","fontSize":9,"color":"#000000","clip":false},
 "encoding":{"y":{"field":"v","type":"quantitative","scale":{"domain":[-0.0126,0.01082],"nice":false,"zero":false,"padding":0},"axis":null},
 "x":{"datum":149.75,"type":"quantitative","scale":{"domain":[-0.25,149],"nice":false,"zero":false,"padding":0},"axis":null},
 "text":{"field":"txt"}}}
]
},
{
"width":597,"height":26,
"layer":[
{"data":{"name":"stk"},"mark":{"type":"line","color":"#3aafa0","strokeWidth":2,"interpolate":"monotone","clip":true},
 "encoding":{"x":{"field":"t","type":"quantitative","scale":{"domain":[-0.25,149],"nice":false,"zero":false,"padding":0},
   "axis":{"orient":"bottom","values":[7.75,15.75,23.75,31.75,39.75,47.75,55.75,63.75,71.75,79.75,87.75,95.75,103.75,111.75,119.75,127.75,135.75,143.75],"grid":true,"gridColor":"#aaaaaa","gridDash":[3,3],"labels":false,"ticks":false,"domain":false,"title":null}},
 "y":{"field":"v","type":"quantitative","scale":{"domain":[52,104],"nice":false,"zero":false,"padding":0},"axis":null}}},
{"data":{"name":"std"},"mark":{"type":"line","color":"#e03030","strokeWidth":1,"strokeDash":[2,2],"interpolate":"monotone","clip":true},
 "encoding":{"x":{"field":"t","type":"quantitative","scale":{"domain":[-0.25,149],"nice":false,"zero":false,"padding":0},"axis":null},
 "y":{"field":"v","type":"quantitative","scale":{"domain":[52,104],"nice":false,"zero":false,"padding":0},"axis":null}}},
{"data":{"values":[{"t":0.75,"v":84,"txt":"Stoch(10,3,3) 23.6559 20.8698"},{"t":149.75,"v":86,"txt":"100"},{"t":149.75,"v":86,"txt":"80"}]},
 "mark":{"type":"text","align":"left","baseline":"middle","fontSize":9.5,"color":"#000000","clip":false},
 "encoding":{"x":{"field":"t","type":"quantitative","scale":{"domain":[-0.25,149],"nice":false,"zero":false,"padding":0},"axis":null},
 "y":{"field":"v","type":"quantitative","scale":{"domain":[52,104],"nice":false,"zero":false,"padding":0},"axis":null},
 "text":{"field":"txt"}}}
]
}
]
}
